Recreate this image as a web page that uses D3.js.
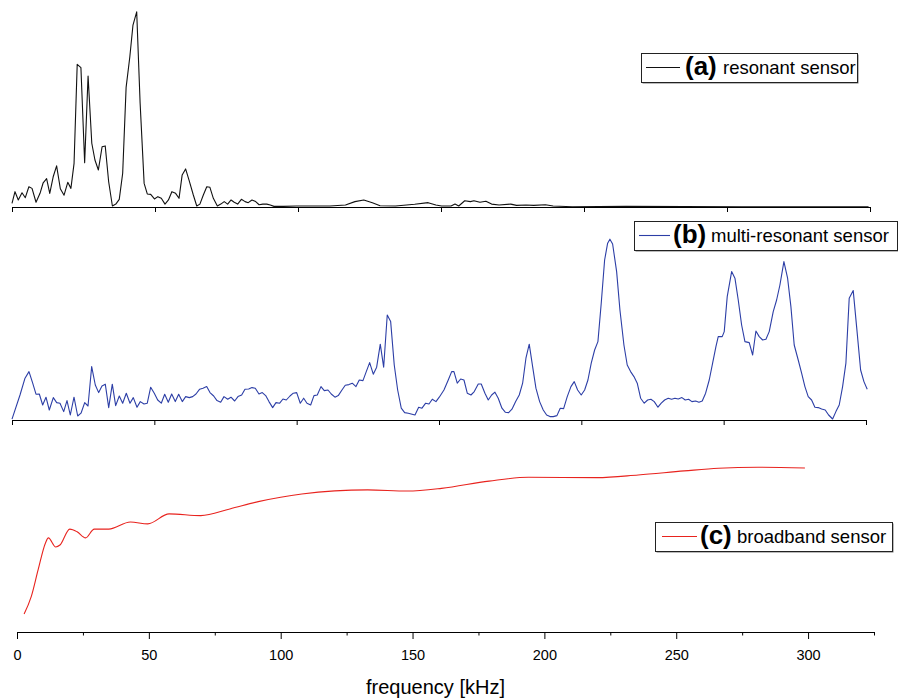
<!DOCTYPE html>
<html>
<head>
<meta charset="utf-8">
<script src="https://cdn.jsdelivr.net/npm/d3@7"></script>
<style>
  body { margin: 0; background: #fff; }
  text { font-family: "Liberation Sans", Arial, Helvetica, sans-serif; }
</style>
</head>
<body>
<svg id="chart" width="898" height="699"></svg>
<script>
// (a) resonant sensor: frequency [kHz] / relative amplitude
const freqA = [0, 1.05, 2.2, 3.5, 4.65, 5.9, 7.0, 8.4, 9.8, 10.9, 12.1, 13.2, 14.4, 15.6, 16.9, 18.2, 19.5, 20.6, 21.7, 22.8,
  24.1, 25.4, 26.6, 27.9, 29.0, 30.2, 31.5, 32.6, 33.8, 35.1, 36.3, 37.5, 38.7, 39.9, 41.2, 42.3, 43.6, 44.8, 46.2, 47.3,
  48.5, 49.8, 51.0, 52.2, 53.5, 54.7, 55.9, 57.2, 58.4, 59.5, 60.7, 61.9, 63.4, 64.6, 65.7, 66.9, 68.1, 69.2, 70.4, 71.8,
  73.0, 74.2, 75.4, 76.6, 77.7, 78.9, 80.2, 81.5, 82.6, 83.9, 85.2, 86.4, 87.7, 89.1, 90.3, 91.6, 94.9, 99.5, 111.2, 116.6,
  119.9, 123.0, 126.0, 128.7, 134.1, 140.8, 145.5, 148.2, 150.2, 153.5, 154.9, 156.2, 158.3, 160.3, 161.5, 163.6, 165.7, 167.7, 170.3, 174.4,
  176.4, 179.7, 182.4, 186.5, 189.2, 195.9, 214.7, 255.1, 299.5];
const ampA = [1.8, 7.4, 3.4, 6.9, 4.5, 9.8, 9.0, 2.3, 6.6, 11.7, 13.7, 6.6, 14.6, 19.9, 8.8, 5.7, 11.9, 9.0, 21.1, 68.9,
  67.3, 21.4, 63.3, 30.8, 22.7, 17.9, 29.1, 29.5, 12.2, 0.5, 1.4, 3.7, 16.3, 57.8, 72.6, 87.9, 94.3, 50.1, 11.4, 6.3,
  6.1, 3.9, 5.0, 4.2, 1.4, 3.4, 7.4, 6.6, 4.2, 15.5, 18.4, 13.0, 5.8, 0.5, 1.4, 5.8, 9.8, 9.5, 4.2, 0.5,
  1.4, 2.6, 1.4, 3.4, 2.3, 1.4, 3.7, 2.6, 2.1, 3.4, 2.6, 1.1, 1.4, 1.4, 1.0, 0.3, 0.3, 0.5, 0.5, 1.0,
  2.6, 3.4, 2.1, 0.6, 0.5, 1.3, 2.1, 1.0, 0.5, 0.5, 1.4, 0.5, 3.0, 2.6, 3.0, 2.3, 2.8, 1.4, 1.0, 1.4,
  0.8, 1.0, 0.8, 1.1, 0.5, 0.1, 0.3, 0.1, 0.1];

// (b) multi-resonant sensor
const freqB = [0, 2.81, 4.57, 5.97, 7.27, 8.43, 9.59, 10.78, 11.94, 13.10,
  14.51, 15.70, 16.86, 18.16, 19.32, 20.48, 21.78, 23.08, 24.24, 25.54,
  26.70, 27.99, 29.26, 30.45, 31.61, 32.77, 33.97, 35.23, 36.42, 37.69,
  38.88, 40.15, 41.45, 42.61, 43.91, 45.07, 46.37, 47.52, 48.72, 49.98,
  51.18, 52.44, 53.64, 54.90, 56.09, 57.36, 58.55, 59.82, 61.01, 62.28,
  63.47, 64.63, 65.93, 67.09, 68.39, 69.55, 70.85, 72.01, 73.31, 74.47,
  75.77, 76.92, 78.22, 79.38, 80.68, 81.84, 83.14, 84.30, 85.46, 86.76,
  87.92, 89.11, 90.27, 91.57, 92.73, 94.03, 95.19, 96.35, 97.65, 98.81,
  100.00, 101.27, 102.46, 103.62, 104.92, 106.08, 107.24, 108.54, 109.70, 111.00,
  112.15, 113.45, 114.61, 115.91, 117.07, 118.37, 119.53, 120.83, 121.99, 123.29,
  124.45, 125.64, 126.91, 128.10, 129.37, 130.56, 131.82, 133.02, 134.28, 135.48,
  136.74, 137.94, 139.20, 141.56, 142.86, 144.02, 145.32, 146.48, 147.64, 148.93,
  150.09,
  151.74, 153.25, 154.45, 155.25, 156.41, 157.61, 158.77, 159.93, 161.23, 162.39,
  163.79, 164.84, 166.14, 167.30, 168.50, 169.65, 170.81, 172.11, 173.27, 174.47,
  175.63, 176.93, 178.19, 179.38, 180.54, 181.70, 182.89, 184.05, 185.35, 186.62,
  187.81, 188.97, 190.13, 191.43, 192.59, 193.78, 195.05, 196.35, 197.51, 198.70,
  199.96, 201.16, 202.32, 203.48, 204.67, 205.83, 206.99, 208.18, 209.24, 210.04,
  210.99, 212.40, 213.56, 214.96, 216.12, 217.31, 218.48, 219.64, 220.83, 222.10,
  223.29, 224.45, 225.61, 226.91, 228.07, 229.26, 230.53, 231.72, 232.88, 234.04,
  235.34, 236.50, 237.69, 238.85, 240.15, 241.31, 242.47, 243.66, 244.93, 246.12,
  247.28, 248.09, 249.49, 250.20, 251.25, 252.80, 253.96, 255.12, 256.31, 257.47,
  258.98, 260.18, 261.33, 262.49, 263.69, 264.85, 266.00, 267.41, 268.60, 269.76,
  271.16, 272.46, 273.62, 274.78, 276.19, 277.38, 278.54, 279.70, 280.89, 282.05,
  283.21, 284.41, 285.67, 286.87, 288.27, 289.43, 290.59, 291.78, 292.94, 294.10,
  295.51, 296.70, 298.11, 299.27, 300.43];
const ampB = [0.4, 12.5, 20.9, 24.2, 18.4, 12.9, 13.0, 7.5, 11.4, 5.0,
  11.2, 8.7, 8.4, 4.2, 9.7, 2.5, 11.4, 2.0, 3.4, 8.7,
  7.0, 26.7, 17.5, 13.7, 17.0, 17.9, 6.2, 17.9, 7.2, 12.0,
  8.4, 13.4, 8.4, 11.2, 6.4, 9.2, 8.0, 8.4, 16.4, 13.4,
  10.0, 8.4, 12.9, 8.9, 13.0, 9.2, 12.9, 9.2, 11.7, 11.2,
  11.7, 13.0, 15.4, 15.9, 16.7, 13.7, 12.0, 9.7, 8.9, 11.7,
  10.4, 11.4, 9.5, 11.7, 12.5, 15.4, 15.5, 16.2, 15.9, 13.0,
  13.7, 12.2, 9.2, 6.2, 8.7, 8.4, 10.5, 10.0, 12.0, 13.4,
  13.7, 8.4, 10.9, 8.4, 7.5, 12.2, 12.5, 16.7, 14.7, 15.0,
  13.0, 11.4, 12.2, 15.0, 17.4, 17.7, 18.4, 16.7, 20.0, 19.7,
  24.2, 28.7, 22.9, 26.4, 37.9, 26.4, 52.5, 49.2, 27.5, 15.0,
  5.9, 3.7, 3.4, 2.5, 6.4, 5.9, 8.4, 8.0, 10.4, 9.2,
  11.4,
  15.0, 20.0, 24.2, 24.2, 18.4, 20.5, 20.0, 13.4, 12.5, 14.2,
  18.0, 18.0, 13.4, 10.0, 12.5, 13.9, 10.9, 5.9, 3.9, 3.7,
  5.4, 9.2, 12.5, 18.4, 30.9, 37.9, 26.7, 15.9, 9.2, 5.0,
  2.5, 1.7, 1.7, 2.2, 5.9, 5.7, 11.7, 16.7, 19.2, 15.0,
  12.5, 15.0, 20.0, 28.4, 35.0, 39.2, 58.4, 80.0, 88.4, 90.4,
  88.0, 74.2, 55.0, 37.5, 27.5, 24.2, 21.7, 18.4, 10.9, 8.4,
  10.0, 10.4, 9.2, 6.4, 8.4, 10.0, 10.9, 10.4, 10.9, 10.5,
  11.2, 10.0, 10.4, 9.2, 9.5, 8.9, 9.5, 13.4, 20.0, 28.4,
  36.7, 41.7, 41.7, 44.2, 61.7, 74.2, 70.9, 60.0, 47.5, 39.2,
  38.7, 32.5, 44.5, 41.7, 40.0, 40.4, 44.2, 54.2, 60.0, 67.5,
  79.2, 70.9, 56.7, 37.5, 30.0, 23.4, 16.7, 11.7, 10.0, 6.4,
  6.2, 5.5, 5.0, 2.5, 0.5, 4.2, 7.5, 16.7, 28.4, 60.9,
  64.7, 46.7, 25.0, 19.2, 15.4];

// (c) broadband sensor
const freqC = [2.7, 5.4, 8, 10.8, 11.9, 14.7, 16.3, 20, 22.8, 26, 29.3, 34.8, 43, 49.6, 57.7,
  69.7, 80.7, 91.5, 108, 133, 148, 161, 179, 194, 220, 235.6, 253, 266, 281, 298.8];
const ampC = [9.4, 18.4, 32.3, 46.4, 49.0, 44.3, 45.3, 53.6, 52.2, 49.0, 53.6, 53.6, 57.3, 56.3, 61.5,
  60.6, 64.1, 67.9, 71.9, 74.0, 73.4, 74.8, 78.6, 80.6, 80.4, 81.8, 83.9, 85.3, 85.8, 85.4];

const majorTicks = [0, 50, 100, 150, 200, 250, 300];
const minorTicks = [25, 75, 125, 175, 225, 275, 325];
const panelTags = ['(a)', '(b)', '(c)'];
const panelNames = ['resonant sensor', 'multi-resonant sensor', 'broadband sensor'];

const FONT = '"Liberation Sans", Arial, Helvetica, sans-serif';

const svg = d3.select('#chart');

const panels = [
  {
    freq: freqA, amp: ampA, color: '#111',
    x: d3.scaleLinear().domain([0, 300]).range([12, 870]),
    y: d3.scaleLinear().domain([0, 100]).range([207, 0]),
    curve: d3.curveLinear, axisY: 207,
    legend: { x: 641, y: 53, w: 216, h: 29, line: [646, 680], tagX: 685, nameX: 723 },
  },
  {
    freq: freqB, amp: ampB, color: '#2c3ea6',
    x: d3.scaleLinear().domain([0, 300]).range([12, 866]),
    y: d3.scaleLinear().domain([0, 100]).range([420, 220]),
    curve: d3.curveLinear, axisY: 420,
    legend: { x: 634, y: 221, w: 263, h: 29, line: [639, 670], tagX: 673, nameX: 711 },
  },
  {
    freq: freqC, amp: ampC, color: '#e8231e',
    x: d3.scaleLinear().domain([0, 325]).range([17, 874]),
    y: d3.scaleLinear().domain([0, 100]).range([632, 440]),
    curve: d3.curveMonotoneX, axisY: 632,
    legend: { x: 655, y: 522, w: 237, h: 29, line: [662, 697], tagX: 700, nameX: 737 },
  },
];

panels.forEach((p, i) => {
  let g = svg.append('g');
  let data = d3.zip(p.freq, p.amp);

  let line = d3.line()
    .x(d => p.x(d[0]))
    .y(d => p.y(d[1]))
    .curve(p.curve);

  g.append('path')
    .datum(data)
    .attr('d', line)
    .attr('fill', 'none')
    .attr('stroke', p.color)
    .attr('stroke-width', 1.1)
    .attr('stroke-linejoin', 'round');

  // x axis of the panel
  let isBottom = i === 2;
  let axis = d3.axisBottom(p.x)
    .tickValues(majorTicks)
    .tickSize(isBottom ? 7 : 5)
    .tickSizeOuter(0)
    .tickFormat(isBottom ? d3.format('d') : '');

  let ax = g.append('g')
    .attr('transform', `translate(0, ${p.axisY})`)
    .call(axis);
  ax.select('.domain').attr('stroke', '#000');
  ax.selectAll('.tick line').attr('stroke', '#000');
  ax.selectAll('.tick text')
    .attr('y', 28)
    .attr('dy', 0)
    .attr('fill', '#000')
    .style('font-family', FONT)
    .style('font-size', '14.5px');

  if (isBottom) {
    let minor = d3.axisBottom(p.x)
      .tickValues(minorTicks)
      .tickSize(3.5)
      .tickSizeOuter(0)
      .tickFormat('');
    let mx = g.append('g')
      .attr('transform', `translate(0, ${p.axisY})`)
      .call(minor);
    mx.select('.domain').remove();
    mx.selectAll('.tick line').attr('stroke', '#000');
  }

  // legend box (thin shadow on the right and bottom)
  let L = p.legend;
  let lg = g.append('g');
  lg.append('rect')
    .attr('x', L.x + 1.5).attr('y', L.y + 1.5)
    .attr('width', L.w).attr('height', L.h)
    .attr('fill', '#777');
  lg.append('rect')
    .attr('x', L.x + 0.5).attr('y', L.y + 0.5)
    .attr('width', L.w).attr('height', L.h)
    .attr('fill', '#fff')
    .attr('stroke', '#222')
    .attr('stroke-width', 1);
  let cy = L.y + L.h / 2;
  lg.append('line')
    .attr('x1', L.line[0]).attr('x2', L.line[1])
    .attr('y1', cy).attr('y2', cy)
    .attr('stroke', p.color)
    .attr('stroke-width', 1.1);
  lg.append('text')
    .attr('x', L.tagX).attr('y', cy + 7)
    .style('font-family', FONT)
    .style('font-size', '26px')
    .style('font-weight', 'bold')
    .text(panelTags[i]);
  lg.append('text')
    .attr('x', L.nameX).attr('y', cy + 6.8)
    .style('font-family', FONT)
    .style('font-size', '18.5px')
    .text(panelNames[i]);
});

svg.append('text')
  .attr('x', 435.5)
  .attr('y', 694)
  .attr('text-anchor', 'middle')
  .style('font-family', FONT)
  .style('font-size', '20px')
  .text('frequency [kHz]');
</script>
</body>
</html>
